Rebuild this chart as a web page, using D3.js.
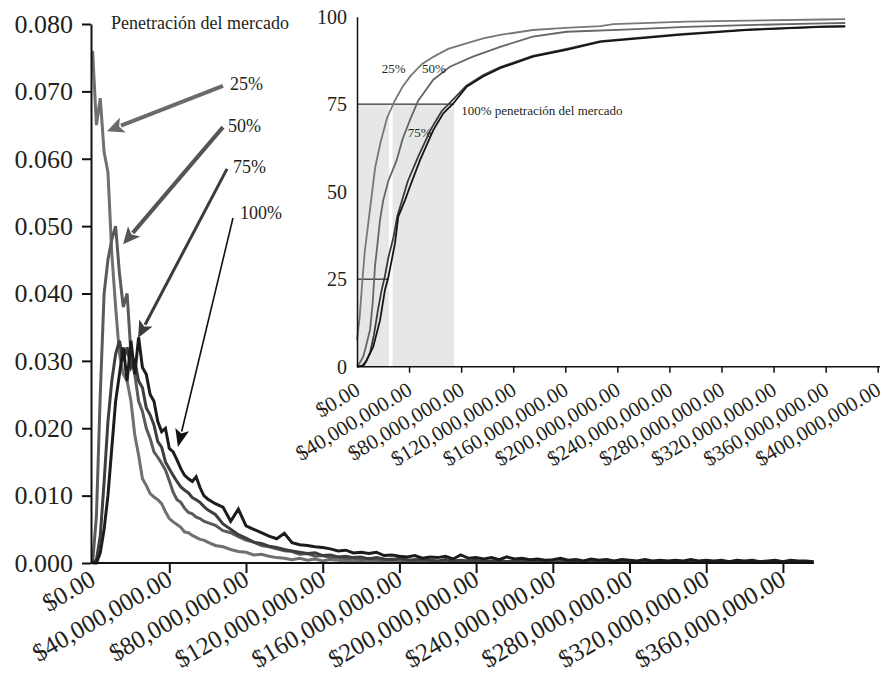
<!DOCTYPE html>
<html><head><meta charset="utf-8">
<script src="https://cdn.jsdelivr.net/npm/d3@7"></script>
<style>
body{margin:0;background:#fff}
svg{display:block}
</style>
</head><body>
<svg id="c" width="886" height="679"></svg>
<script>
// ---------- DATA ----------
// Loss bins (millions of dollars)
const binsM = [0,2,4,6,8,10,12,14,16,18,20,22,24,26,28,30,32,34,36,38,40,42,44,46,48,50,52,54,56,58,
  60,64,68,72,76,80,84,88,92,96,
  100,104,108,112,116,120,124,128,132,136,
  140,144,148,152,156,160,164,168,172,176,
  180,184,188,192,196,200,204,208,212,216,
  220,224,228,232,236,240,244,248,252,256,
  260,264,268,272,276,280,284,288,292,296,
  300,304,308,312,316,320,324,328,332,336,
  340,344,348,352,356,360,364,368,372,376];

const dens25 = [0.076,0.065,0.069,0.061,0.058,0.046,0.038,0.031,0.028,0.027,
  0.024,0.019,0.016,0.0125,0.0115,0.0103,0.0098,0.0094,0.0088,0.0076,
  0.0066,0.0061,0.0057,0.0053,0.0046,0.0045,0.0041,0.0038,0.0035,0.0034,
  0.0031,0.0026,0.0024,0.0020,0.0017,0.0016,0.0012,0.0013,0.0010,0.0008,
  0.0007,0.0005,0.0007,0.0004,0.0006,0.0003,0.0005,0.0004,0.0003,0.0004,
  0.0002,0.0004,0.0003,0.0002,0.0003,0.0002,0.0003,0.0001,0.0003,0.0002,
  0.0002,0.0001,0.0003,0.0002,0.0001,0.0002,0.0001,0.0002,0.0001,0.0002,
  0.0001,0.0002,0.0001,0.0001,0.0002,0.0001,0.0001,0.0002,0.0001,0.0001,
  0.0001,0.0002,0.0001,0.0001,0.0001,0.0001,0.0002,0.0001,0.0001,0.0001,
  0.0001,0.0001,0.0002,0.0001,0.0001,0.0001,0.0001,0.0001,0.0002,0.0001,
  0.0001,0.0001,0.0001,0.0001,0.0002,0.0001,0.0001,0.0001,0.0001,0.0001];

const dens50 = [0,0.007,0.025,0.040,0.045,0.048,0.050,0.043,0.038,0.040,
  0.031,0.028,0.024,0.0225,0.020,0.0185,0.0165,0.0157,0.0148,0.0138,
  0.0122,0.0105,0.0094,0.0090,0.0081,0.0075,0.0073,0.0068,0.0066,0.0062,
  0.0060,0.0056,0.0048,0.0045,0.0039,0.0034,0.0031,0.0026,0.0024,0.0021,
  0.0018,0.0017,0.0013,0.0014,0.0010,0.0011,0.0008,0.0009,0.0006,0.0008,
  0.0005,0.0007,0.0005,0.0004,0.0006,0.0004,0.0003,0.0005,0.0003,0.0004,
  0.0002,0.0004,0.0003,0.0002,0.0003,0.0002,0.0003,0.0002,0.0003,0.0002,
  0.0002,0.0003,0.0001,0.0002,0.0002,0.0001,0.0002,0.0002,0.0001,0.0002,
  0.0001,0.0002,0.0001,0.0002,0.0001,0.0001,0.0002,0.0001,0.0001,0.0002,
  0.0001,0.0001,0.0002,0.0001,0.0001,0.0001,0.0002,0.0001,0.0001,0.0001,
  0.0002,0.0001,0.0001,0.0001,0.0001,0.0002,0.0001,0.0001,0.0001,0.0001];

const dens75 = [0,0.0005,0.004,0.012,0.021,0.027,0.031,0.033,0.030,0.032,
  0.029,0.030,0.027,0.026,0.023,0.022,0.0205,0.018,0.0172,0.0150,
  0.0140,0.0130,0.0121,0.0113,0.0108,0.0104,0.0097,0.0094,0.0090,0.0084,
  0.0079,0.0072,0.0058,0.0050,0.0042,0.0037,0.0031,0.0029,0.0025,0.0023,
  0.0020,0.0018,0.0016,0.0014,0.0015,0.0011,0.0012,0.0009,0.0010,0.0008,
  0.0009,0.0006,0.0008,0.0006,0.0005,0.0007,0.0005,0.0004,0.0006,0.0004,
  0.0003,0.0005,0.0003,0.0004,0.0003,0.0004,0.0002,0.0003,0.0004,0.0002,
  0.0003,0.0002,0.0003,0.0002,0.0003,0.0002,0.0002,0.0003,0.0002,0.0001,
  0.0002,0.0003,0.0001,0.0002,0.0002,0.0001,0.0002,0.0002,0.0001,0.0002,
  0.0001,0.0002,0.0001,0.0002,0.0001,0.0001,0.0002,0.0001,0.0002,0.0001,
  0.0001,0.0002,0.0001,0.0001,0.0002,0.0001,0.0001,0.0002,0.0001,0.0001];

const dens100 = [0,0,0.0015,0.005,0.010,0.017,0.024,0.028,0.032,0.027,
  0.033,0.028,0.0335,0.029,0.028,0.025,0.024,0.021,0.0195,0.020,
  0.017,0.0165,0.0153,0.014,0.013,0.0125,0.0121,0.0128,0.0112,0.0100,
  0.0095,0.0088,0.0083,0.0062,0.0080,0.0055,0.0050,0.0045,0.0040,0.0036,
  0.0044,0.0030,0.0027,0.0026,0.0024,0.0023,0.0021,0.0018,0.0019,0.0015,
  0.0016,0.0014,0.0016,0.0011,0.0012,0.0010,0.0009,0.0011,0.0007,0.0009,
  0.0008,0.0010,0.0006,0.0012,0.0007,0.0008,0.0006,0.0008,0.0005,0.0009,
  0.0006,0.0007,0.0005,0.0006,0.0004,0.0005,0.0007,0.0004,0.0005,0.0003,
  0.0006,0.0004,0.0005,0.0003,0.0005,0.0004,0.0003,0.0005,0.0003,0.0004,
  0.0003,0.0004,0.0003,0.0005,0.0003,0.0004,0.0003,0.0004,0.0002,0.0004,
  0.0003,0.0004,0.0002,0.0003,0.0004,0.0002,0.0004,0.0003,0.0003,0.0002];

const mainYTicks = [0,0.01,0.02,0.03,0.04,0.05,0.06,0.07,0.08];
const mainXTicks = [0,40e6,80e6,120e6,160e6,200e6,240e6,280e6,320e6,360e6];

// Inset: cumulative percentage curves (x in millions, y in %)
const cum25M = [0,2,4,6,9,11,14,18,23,29,35,41,50,59,70,84,97,110,135,160,187,197,253,300,358,375];
const cum25V = [7.6,14,24,33,42,48,57,64,71,76,80,83,86.5,88.6,90.8,92.4,93.8,94.8,96.2,96.8,97.3,97.9,98.6,98.9,99.2,99.3];
const cum50M = [0,2,4.8,7,10,12,13.8,16,17.7,20.2,24,30.5,35,40.7,47,58.6,71.4,89,110,135,161,210,253,299,358,375];
const cum50V = [0.3,1,2.9,6,10.5,18,28.6,36,42,47.6,53,59,65,70.5,76,82,85.7,88.6,91.4,94.3,95.7,96.4,97.1,97.6,98.1,98.2];
const cum75M = [0,4,7,10,13,16,19,21.5,24,28,31,35,39,47,57,65,73,84,97,110,135,161,187,248,299,358,375];
const cum75V = [0,0.3,1.5,4,9,16,22,26,31,37,43,48,53,60,68,73,76,80.3,83.3,85.6,88.8,90.8,93,95,96.3,97.2,97.3];
const cum100M = [0,5,7.5,12.5,17.7,21.5,24,29.2,31.7,36.9,40.7,48.4,58.6,66.3,74,84.3,97,110,135.4,161,187,248,299,358,375];
const cum100V = [0,0.3,1.9,5.7,13.3,22,25.4,35.3,42.9,47.6,51.5,59,67.6,72.4,75.2,80,82.9,85.3,88.6,90.5,92.8,94.8,96.2,97.1,97.2];

const insetYTicks = [0,25,50,75,100];
const insetXTicks = [0,40e6,80e6,120e6,160e6,200e6,240e6,280e6,320e6,360e6,400e6];

// Percentiles of the 100% curve (millions) used for the shaded bands
const p25M = 24.5, p75M = 74.5, gapM = 27.3;

// ---------- DRAW ----------
const FONT = "'Liberation Serif', 'Times New Roman', Times, serif";
const svg = d3.select("#c");
svg.append("rect").attr("width",886).attr("height",679).attr("fill","#fff");
const money = d3.format("$,.2f");

// ---- Main chart ----
const x = d3.scaleLinear().domain([0, 376e6]).range([92.6, 813.6]);
const y = d3.scaleLinear().domain([0, 0.08]).range([563, 24]);

const series = [
  {v: dens25, c: "#707070", w: 3},
  {v: dens50, c: "#5a5a5a", w: 3},
  {v: dens75, c: "#3e3e3e", w: 3},
  {v: dens100, c: "#1c1c1c", w: 3}
];
const line = d3.line().x(d => x(d[0]*1e6)).y(d => y(d[1]));
series.forEach(s => {
  svg.append("path")
    .datum(binsM.map((m,i) => [m, s.v[i]]))
    .attr("d", line).attr("fill","none")
    .attr("stroke", s.c).attr("stroke-width", s.w)
    .attr("stroke-linejoin","miter").attr("stroke-miterlimit",4);
});

const yAx = svg.append("g").attr("transform","translate(91,0)")
  .call(d3.axisLeft(y).tickValues(mainYTicks).tickFormat(d3.format(".3f")).tickSize(9).tickSizeOuter(0).tickPadding(9));
yAx.selectAll("text").style("font-size","26px");
yAx.selectAll("line,path").attr("stroke","#111").attr("stroke-width",2);

const xAx = svg.append("g").attr("transform","translate(0,563)")
  .call(d3.axisBottom(x).tickValues(mainXTicks).tickFormat(money).tickSize(10).tickSizeOuter(0));
xAx.select(".domain").attr("d", `M91,0H${x(376e6)}`);
xAx.selectAll("line,path").attr("stroke","#111").attr("stroke-width",2);
xAx.selectAll(".tick").filter(d => d === 0).select("line").remove();
xAx.selectAll("text").style("font-size","25px")
  .attr("x",0).attr("y",0).attr("dy",0)
  .attr("text-anchor","end").attr("transform","translate(4,21) rotate(-30)");

// Labels and arrows (positions in data units)
svg.append("text").attr("x", x(9.6e6)).attr("y", y(0.0793)).style("font-size","18px").text("Penetración del mercado");

const ann = [
  {t:"25%", lx:71.7, ly:0.0702, fx:68.0, fy:0.0708, tx:7.5, ty:0.0641, c:"#6a6a6a", w:4, hl:17, hw:8},
  {t:"50%", lx:70.6, ly:0.0640, fx:68.0, fy:0.0647, tx:15.9, ty:0.0473, c:"#555", w:4, hl:17, hw:8},
  {t:"75%", lx:73.2, ly:0.0579, fx:70.1, fy:0.0585, tx:23.7, ty:0.0334, c:"#3c3c3c", w:3, hl:17, hw:7.5},
  {t:"100%", lx:76.9, ly:0.0511, fx:73.2, fy:0.0512, tx:44.5, ty:0.0172, c:"#111", w:1.6, hl:18, hw:7}
];
ann.forEach(a => {
  svg.append("text").attr("x", x(a.lx*1e6)).attr("y", y(a.ly)).style("font-size","18px").text(a.t);
  const x1 = x(a.fx*1e6), y1 = y(a.fy), x2 = x(a.tx*1e6), y2 = y(a.ty);
  const dx = x2-x1, dy = y2-y1, L = Math.hypot(dx,dy), ux = dx/L, uy = dy/L;
  const bx = x2 - ux*a.hl, by = y2 - uy*a.hl;
  svg.append("line").attr("x1",x1).attr("y1",y1).attr("x2",bx+ux*2).attr("y2",by+uy*2)
    .attr("stroke",a.c).attr("stroke-width",a.w);
  svg.append("path").attr("d",
    `M${x2},${y2}L${bx - uy*a.hw},${by + ux*a.hw}L${bx + ux*4},${by + uy*4}L${bx + uy*a.hw},${by - ux*a.hw}Z`)
    .attr("fill",a.c);
});

// ---- Inset chart ----
const xi = d3.scaleLinear().domain([0, 400e6]).range([357, 877.7]);
const yi = d3.scaleLinear().domain([0, 100]).range([366.7, 16.7]);

svg.append("rect").attr("x", xi(0)).attr("y", yi(75)).attr("width", xi(p25M*1e6)-xi(0)).attr("height", yi(0)-yi(75)).attr("fill","#e6e7e8");
svg.append("rect").attr("x", xi(gapM*1e6)).attr("y", yi(75)).attr("width", xi(p75M*1e6)-xi(gapM*1e6)).attr("height", yi(0)-yi(75)).attr("fill","#e6e7e8");

svg.append("line").attr("x1", xi(0)).attr("x2", xi(p75M*1e6)).attr("y1", yi(75)).attr("y2", yi(75)).attr("stroke","#333").attr("stroke-width",1.3);
svg.append("line").attr("x1", xi(0)).attr("x2", xi(24e6)).attr("y1", yi(25)).attr("y2", yi(25)).attr("stroke","#333").attr("stroke-width",1.3);

const cum = [
  {m: cum25M, v: cum25V, c: "#777"},
  {m: cum50M, v: cum50V, c: "#666"},
  {m: cum75M, v: cum75V, c: "#3a3a3a"},
  {m: cum100M, v: cum100V, c: "#151515"}
];
const cl = d3.line().x(d => xi(d[0]*1e6)).y(d => yi(d[1]));
cum.forEach(s => {
  svg.append("path").datum(s.m.map((m,i) => [m, s.v[i]]))
    .attr("d", cl).attr("fill","none").attr("stroke", s.c).attr("stroke-width", 1.8);
});

const yiAx = svg.append("g").attr("transform","translate(357,0)")
  .call(d3.axisLeft(yi).tickValues(insetYTicks).tickFormat(d3.format("d")).tickSize(0).tickPadding(10));
yiAx.selectAll("text").style("font-size","20px");
yiAx.select(".domain").attr("stroke","#111").attr("stroke-width",1.5);

const xiAx = svg.append("g").attr("transform","translate(0,366.7)")
  .call(d3.axisBottom(xi).tickValues(insetXTicks).tickFormat(money).tickSize(6).tickSizeOuter(0));
xiAx.selectAll("line,path").attr("stroke","#111").attr("stroke-width",1.5);
xiAx.selectAll(".tick").filter(d => d === 0).select("line").remove();
xiAx.select(".domain").attr("d", `M357,0H880`);
xiAx.selectAll("text").style("font-size","21px")
  .attr("x",0).attr("y",0).attr("dy",0)
  .attr("text-anchor","end").attr("transform","translate(4,27) rotate(-31)");

svg.append("text").attr("x", xi(19e6)).attr("y", yi(84)).style("font-size","13px").text("25%");
svg.append("text").attr("x", xi(50e6)).attr("y", yi(84)).style("font-size","13px").text("50%");
svg.append("text").attr("x", xi(39e6)).attr("y", yi(65.5)).style("font-size","13px").text("75%");
svg.append("text").attr("x", xi(80e6)).attr("y", yi(72)).style("font-size","13px").text("100% penetración del mercado");

// serif font on every text element and group
svg.selectAll("g").attr("font-family", null);
svg.selectAll("text").style("font-family", FONT).attr("fill", "#231f20");
</script>
</body></html>
